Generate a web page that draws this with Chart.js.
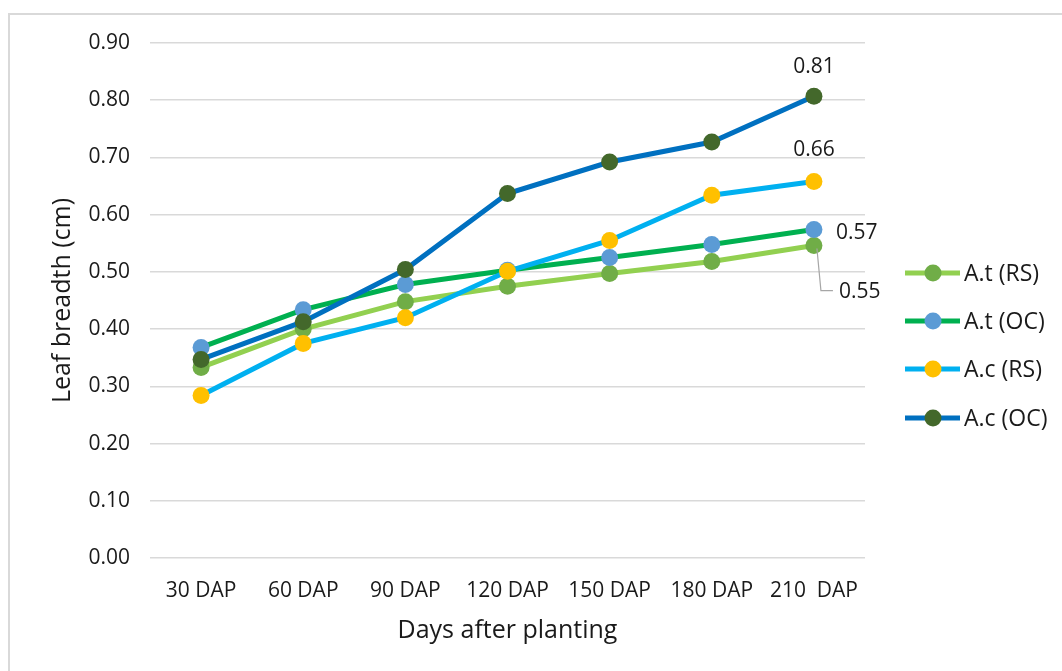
<!DOCTYPE html>
<html>
<head>
<meta charset="utf-8">
<script src="https://cdn.jsdelivr.net/npm/chart.js@4.4.1/dist/chart.umd.min.js"></script>
<style>
  html, body { margin: 0; padding: 0; background: #fff; }
  #frame { position: absolute; left: 8px; top: 13px; width: 1200px; height: 800px; border: 2px solid #d9d9d9; }
  #wrap { position: absolute; left: 0; top: 0; width: 1062px; height: 671px; }
</style>
</head>
<body>
<div id="frame"></div>
<div id="wrap"><canvas id="leafChart" width="1062" height="671"></canvas></div>
<script>
const categories = ["30 DAP", "60 DAP", "90 DAP", "120 DAP", "150 DAP", "180 DAP", "210  DAP"];
const seriesNames = ["A.t (RS)", "A.t (OC)", "A.c (RS)", "A.c (OC)"];
const atRS = [0.333, 0.400, 0.448, 0.475, 0.497, 0.518, 0.546];
const atOC = [0.368, 0.434, 0.478, 0.503, 0.525, 0.548, 0.574];
const acRS = [0.284, 0.375, 0.420, 0.501, 0.555, 0.634, 0.658];
const acOC = [0.347, 0.413, 0.504, 0.637, 0.692, 0.727, 0.807];
const endLabels = ["0.55", "0.57", "0.66", "0.81"];

const lineColors = ["#92D050", "#00B050", "#00B0F0", "#0070C0"];
const markerColors = ["#70AD47", "#5B9BD5", "#FFC000", "#43682B"];
const FONT = "'Open Sans', 'Noto Sans', sans-serif";
const TEXT = "#1a1a1a";

const values = [atRS, atOC, acRS, acOC];

const labelPlugin = {
    id: "endLabels",
    afterDatasetsDraw(chart) {
        const ctx = chart.ctx;
        ctx.save();
        ctx.font = "21px " + FONT;
        ctx.fillStyle = TEXT;
        ctx.textBaseline = "middle";
        const pts = values.map((v, i) => chart.getDatasetMeta(i).data[v.length - 1]);
        // A.c series: label above the last point
        ctx.textAlign = "center";
        ctx.fillText(endLabels[3], pts[3].x, pts[3].y - 29);
        ctx.fillText(endLabels[2], pts[2].x, pts[2].y - 31);
        // A.t (OC): right of the point
        ctx.textAlign = "left";
        ctx.fillText(endLabels[1], pts[1].x + 22, pts[1].y + 3);
        // A.t (RS): leader line down-right
        const p = pts[0];
        ctx.strokeStyle = "#a6a6a6";
        ctx.lineWidth = 1.2;
        ctx.beginPath();
        ctx.moveTo(p.x + 3, p.y + 3);
        ctx.lineTo(p.x + 7, p.y + 45);
        ctx.lineTo(p.x + 19, p.y + 45);
        ctx.stroke();
        ctx.fillText(endLabels[0], p.x + 25, p.y + 46);
        ctx.restore();
    }
};

const legendPlugin = {
    id: "sideLegend",
    afterDraw(chart) {
        const ctx = chart.ctx;
        const rows = [273, 321, 369, 418];
        ctx.save();
        ctx.font = "23px " + FONT;
        ctx.textBaseline = "middle";
        ctx.textAlign = "left";
        seriesNames.forEach((name, i) => {
            const y = rows[i];
            ctx.strokeStyle = lineColors[i];
            ctx.lineWidth = 5;
            ctx.beginPath();
            ctx.moveTo(905, y);
            ctx.lineTo(960, y);
            ctx.stroke();
            ctx.fillStyle = markerColors[i];
            ctx.beginPath();
            ctx.arc(933, y, 8.5, 0, Math.PI * 2);
            ctx.fill();
            ctx.fillStyle = TEXT;
            ctx.fillText(name, 964, y + 1);
        });
        ctx.restore();
    }
};

new Chart(document.getElementById("leafChart"), {
    type: "line",
    data: {
        labels: categories,
        datasets: values.map((v, i) => ({
            label: seriesNames[i],
            data: v,
            borderColor: lineColors[i],
            backgroundColor: markerColors[i],
            pointBackgroundColor: markerColors[i],
            pointBorderColor: markerColors[i],
            borderWidth: 5,
            pointRadius: 8.5,
            pointBorderWidth: 0,
            tension: 0,
            order: 4 - i
        }))
    },
    options: {
        responsive: false,
        animation: false,
        devicePixelRatio: 1,
        layout: { padding: { left: 44, right: 197, top: 43, bottom: 21 } },
        plugins: {
            legend: { display: false },
            tooltip: { enabled: false }
        },
        scales: {
            x: {
                offset: true,
                afterFit: s => { s.height = 92; },
                grid: { display: false, drawTicks: false },
                border: { display: false },
                ticks: { color: TEXT, font: { family: FONT, size: 21 }, padding: 20, maxRotation: 0 },
                title: { display: true, text: "Days after planting", color: TEXT, font: { family: FONT, size: 25 }, padding: { top: 13, bottom: 4 } }
            },
            y: {
                min: 0,
                max: 0.9,
                afterFit: s => { s.width = 106; },
                grid: { color: "#d9d9d9", lineWidth: 1.5, drawTicks: false },
                border: { display: false },
                ticks: { stepSize: 0.1, color: TEXT, font: { family: FONT, size: 21 }, padding: 20, callback: v => v.toFixed(2) },
                title: { display: true, text: "Leaf breadth (cm)", color: TEXT, font: { family: FONT, size: 25 }, padding: { top: 4, bottom: 4 } }
            }
        }
    },
    plugins: [labelPlugin, legendPlugin]
});
</script>
</body>
</html>
